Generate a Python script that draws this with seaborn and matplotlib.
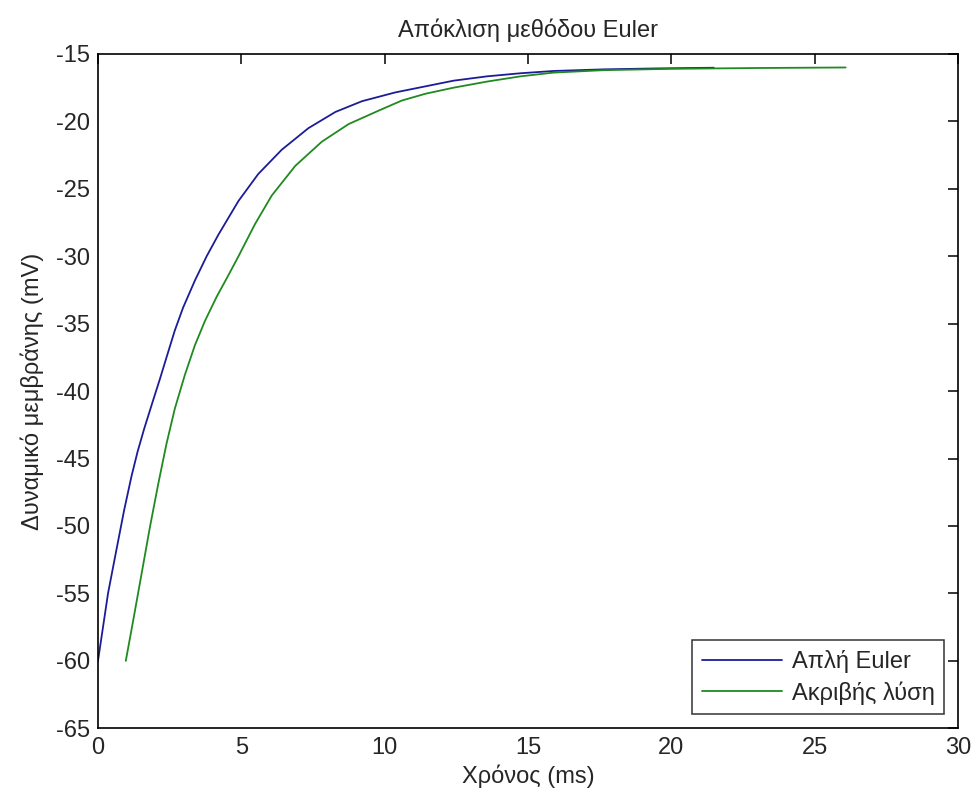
import numpy as np
import pandas as pd
import matplotlib
matplotlib.use("Agg")
import matplotlib.pyplot as plt
import seaborn as sns

# Data
euler_t = [0, 0.35, 0.64, 0.91, 1.17, 1.38, 1.61, 1.92, 2.16, 2.39, 2.68, 2.97,
           3.38, 3.79, 4.2, 4.9, 5.59, 6.41, 7.34, 8.28, 9.21, 10.37, 11.42,
           12.4, 13.56, 14.73, 15.89, 17.64, 19.5, 21.48]
euler_v = [-60, -55, -51.8, -48.85, -46.3, -44.5, -42.8, -40.7, -39.1, -37.5,
           -35.5, -33.8, -31.8, -30.0, -28.4, -25.9, -23.9, -22.1, -20.5, -19.3,
           -18.5, -17.85, -17.4, -16.98, -16.66, -16.43, -16.26, -16.14, -16.07,
           -16.02]

exact_t = [0.97, 1.22, 1.52, 1.81, 2.1, 2.39, 2.68, 3.03, 3.38, 3.73, 4.14,
           4.55, 4.9, 5.48, 6.06, 6.88, 7.81, 8.74, 9.79, 10.6, 11.42, 12.4,
           13.56, 14.73, 15.89, 17.64, 20.0, 23.0, 26.08]
exact_v = [-60, -57.1, -53.55, -50.1, -46.9, -43.9, -41.3, -38.8, -36.6, -34.8,
           -33.0, -31.4, -30.0, -27.6, -25.5, -23.3, -21.5, -20.2, -19.2, -18.45,
           -17.95, -17.5, -17.05, -16.66, -16.38, -16.2, -16.1, -16.04, -16.0]

series_names = ["Απλή Euler", "Ακριβής λύση"]
x_ticks = [0, 5, 10, 15, 20, 25, 30]
y_ticks = [-65, -60, -55, -50, -45, -40, -35, -30, -25, -20, -15]
title = "Απόκλιση μεθόδου Euler"
xlabel = "Χρόνος (ms)"
ylabel = "Δυναμικό μεμβράνης (mV)"

df = pd.concat([
    pd.DataFrame({"t": euler_t, "v": euler_v, "s": series_names[0]}),
    pd.DataFrame({"t": exact_t, "v": exact_v, "s": series_names[1]}),
], ignore_index=True)

sns.set_style("white")
plt.rcParams["font.family"] = ["Liberation Sans", "DejaVu Sans"]
plt.rcParams["font.size"] = 17

fig = plt.figure(figsize=(9.75, 8.01), dpi=100)
ax = fig.add_axes([0.1005, 0.0908, 0.8821, 0.8418])

palette = {series_names[0]: "#1c1c98", series_names[1]: "#1f8a1f"}
sns.lineplot(data=df, x="t", y="v", hue="s", palette=palette, sort=False,
             estimator=None, linewidth=1.3, ax=ax)

ax.set_xlim(0, 30)
ax.set_ylim(-65, -15)
ax.set_xticks(x_ticks)
ax.set_yticks(y_ticks)
ax.set_xticklabels([str(v) for v in x_ticks])
ax.set_yticklabels([str(v) for v in y_ticks])
ax.tick_params(direction="in", length=7, width=1.1, top=True, right=True,
               labelsize=17, color="black", pad=6)
for sp in ax.spines.values():
    sp.set_visible(True)
    sp.set_color("black")
    sp.set_linewidth(1.2)

ax.set_title(title, fontsize=17, pad=12)
ax.set_xlabel(xlabel, fontsize=17, labelpad=4)
ax.set_ylabel(ylabel, fontsize=17, labelpad=8)

leg = ax.legend(loc="lower right", frameon=True, fancybox=False, fontsize=17,
                handlelength=3.4, borderaxespad=0.6, handletextpad=0.4,
                labelspacing=0.35, borderpad=0.4)
leg.get_frame().set_edgecolor("black")
leg.get_frame().set_linewidth(1.1)
leg.set_title(None)

fig.savefig("out.png", dpi=100)
